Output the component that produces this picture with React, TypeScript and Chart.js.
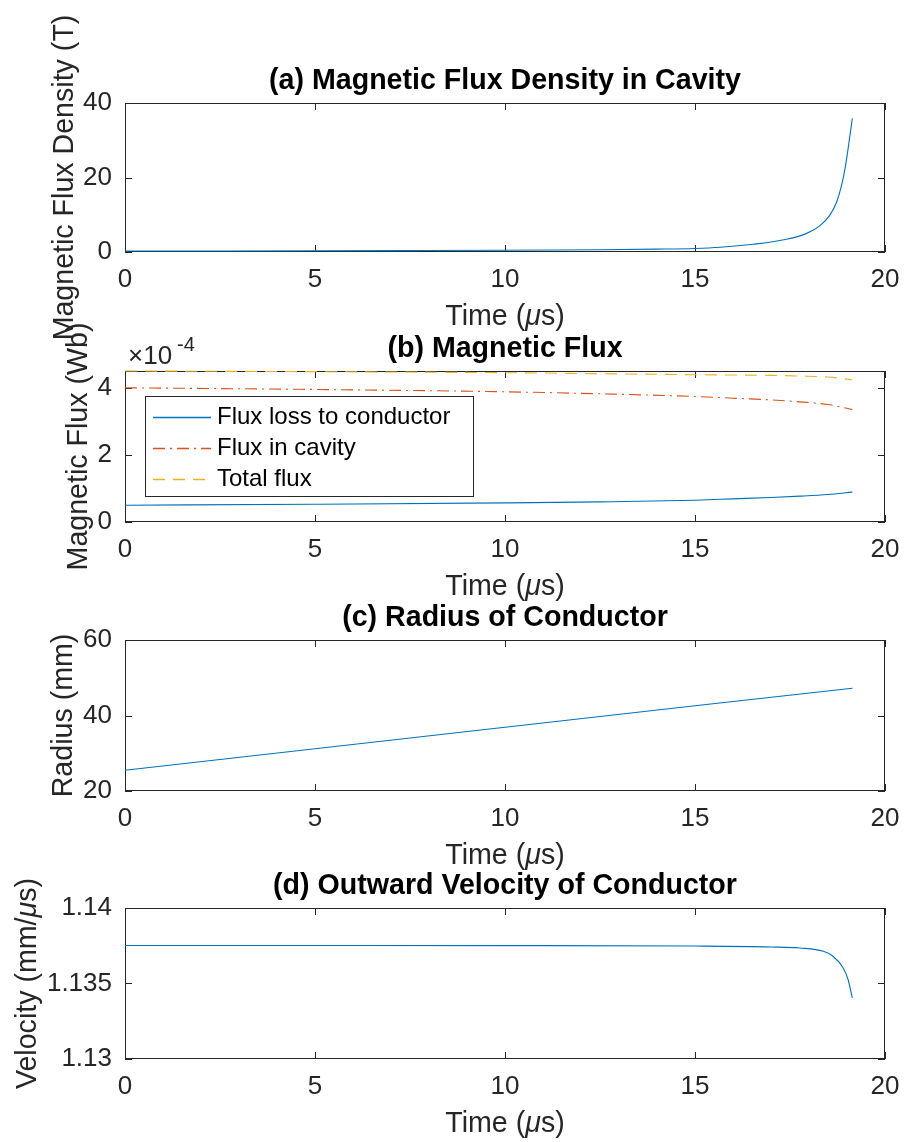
import React, { useEffect, useRef } from "react";
import { Chart, registerables } from "chart.js";

Chart.register(...registerables);

// ---------------- data ----------------
const timeTicks = [0, 5, 10, 15, 20];

// (a) magnetic flux density in cavity (T)
const timeA = [0, 2.5, 5, 7.5, 10, 12.5, 14, 15, 15.66, 16.53, 17.41, 17.94, 18.29, 18.55, 18.73, 18.86, 18.95, 19.03, 19.14];
const densityA = [0.25, 0.28, 0.32, 0.38, 0.46, 0.62, 0.78, 0.95, 1.26, 2.06, 3.4, 5.0, 7.1, 9.9, 13.5, 18.0, 22.5, 27.8, 35.9];
const densityTicks = [0, 20, 40];

// (b) magnetic flux (x 10^-4 Wb)
const timeB = [0, 5, 10, 12.5, 15, 16, 17, 17.76, 18.5, 19.14];
const fluxLoss = [0.5, 0.53, 0.57, 0.6, 0.65, 0.69, 0.73, 0.77, 0.82, 0.89];
const fluxCavity = [4.0, 3.95, 3.88, 3.82, 3.74, 3.69, 3.64, 3.58, 3.5, 3.35];
const fluxTotal = [4.5, 4.48, 4.45, 4.42, 4.39, 4.38, 4.37, 4.35, 4.32, 4.24];
const fluxTicks = [0, 2, 4];
const fluxLabels = ["Flux loss to conductor", "Flux in cavity", "Total flux"];

// (c) radius of conductor (mm)
const timeC = [0, 5, 10, 15, 19.14];
const radiusC = [25.5, 31.2, 36.9, 42.6, 47.2];
const radiusTicks = [20, 40, 60];

// (d) outward velocity (mm/us)
const timeD = [0, 5, 10, 15, 17, 17.76, 18.38, 18.64, 18.9, 19.03, 19.14];
const velocityD = [1.13752, 1.13752, 1.13751, 1.13748, 1.13742, 1.13735, 1.13713, 1.13679, 1.13603, 1.13525, 1.13404];
const velocityTicks = [1.13, 1.135, 1.14];

// ---------------- styling ----------------
const FONT = "'Liberation Sans', Arial, Helvetica, sans-serif";
const W = 904;
const H = 1142;
const PLOT_LEFT = 125;
const PLOT_RIGHT = 885;
const Y_AXIS_W = 100;
const X_AXIS_H = 50;
const TICK_PX = 26;
const LABEL_PX = 28.6;
const TITLE_PX = 28.6;
const LEGEND_PX = 24;
const AXIS_COLOR = "#262626";
const BLUE = "#0072BD";
const ORANGE = "#D95319";
const YELLOW = "#EDB120";

type Part = { text: string; italic?: boolean };

const pts = (xs: number[], ys: number[]) => xs.map((x, i) => ({ x, y: ys[i] }));

function drawRich(ctx: CanvasRenderingContext2D, parts: Part[], x: number, y: number, size: number, weight: string, color: string, align: "center" | "left" = "center") {
  const fontOf = (p: Part) => `${p.italic ? "italic " : ""}${weight} ${size}px ${FONT}`;
  let total = 0;
  const widths = parts.map((p) => {
    ctx.font = fontOf(p);
    const w = ctx.measureText(p.text).width;
    total += w;
    return w;
  });
  let cx = align === "center" ? x - total / 2 : x;
  ctx.textAlign = "left";
  ctx.textBaseline = "middle";
  ctx.fillStyle = color;
  parts.forEach((p, i) => {
    ctx.font = fontOf(p);
    ctx.fillText(p.text, cx, y);
    cx += widths[i];
  });
}

interface PanelSpec {
  id: string;
  top: number;
  bottom: number;
  title: string;
  yLabel: Part[];
  yLabelX: number;
  yMin: number;
  yMax: number;
  yTicks: number[];
  datasets: any[];
  legend?: boolean;
  exponent?: string;
}

function panelPlugin(spec: PanelSpec) {
  return {
    id: "panelDecor" + spec.id,
    beforeDatasetsDraw(chart: any) {
      const ctx: CanvasRenderingContext2D = chart.ctx;
      const a = chart.chartArea;
      const xs = chart.scales.x;
      const ys = chart.scales.y;
      ctx.save();
      const L = Math.round(a.left);
      const T = Math.round(a.top);
      const R = Math.round(a.right);
      const B = Math.round(a.bottom);
      ctx.strokeStyle = AXIS_COLOR;
      ctx.lineWidth = 1;
      ctx.setLineDash([]);
      ctx.strokeRect(L + 0.5, T + 0.5, R - L - 1, B - T - 1);
      const TL = 7;
      ctx.beginPath();
      xs.ticks.forEach((t: any) => {
        const px = Math.round(xs.getPixelForValue(t.value)) + 0.5;
        ctx.moveTo(px, B);
        ctx.lineTo(px, B - TL);
        ctx.moveTo(px, T);
        ctx.lineTo(px, T + TL);
      });
      ys.ticks.forEach((t: any) => {
        const py = Math.round(ys.getPixelForValue(t.value)) + 0.5;
        ctx.moveTo(L, py);
        ctx.lineTo(L + TL, py);
        ctx.moveTo(R, py);
        ctx.lineTo(R - TL, py);
      });
      ctx.stroke();
      ctx.restore();
    },
    afterDraw(chart: any) {
      const ctx: CanvasRenderingContext2D = chart.ctx;
      const a = chart.chartArea;
      ctx.save();
      // title
      drawRich(ctx, [{ text: spec.title }], (a.left + a.right) / 2, a.top - 22, TITLE_PX, "bold", "#000");
      // x label
      drawRich(ctx, [{ text: "Time (" }, { text: "\u03bc", italic: true }, { text: "s)" }], (a.left + a.right) / 2, a.bottom + 65, LABEL_PX, "normal", AXIS_COLOR);
      // y label
      ctx.save();
      ctx.translate(spec.yLabelX, (a.top + a.bottom) / 2);
      ctx.rotate(-Math.PI / 2);
      drawRich(ctx, spec.yLabel, 0, 0, LABEL_PX, "normal", AXIS_COLOR);
      ctx.restore();

      // exponent
      if (spec.exponent) {
        drawRich(ctx, [{ text: "\u00d710" }], a.left + 3, a.top - 14, TICK_PX, "normal", AXIS_COLOR, "left");
        drawRich(ctx, [{ text: spec.exponent }], a.left + 52, a.top - 26, 20, "normal", AXIS_COLOR, "left");
      }

      // legend
      if (spec.legend) {
        const lx = Math.round(a.left + 19.5);
        const ly = Math.round(a.top + 25);
        const lw = 328;
        const lh = 100;
        ctx.fillStyle = "#fff";
        ctx.fillRect(lx, ly, lw, lh);
        ctx.strokeStyle = AXIS_COLOR;
        ctx.lineWidth = 1;
        ctx.strokeRect(lx + 0.5, ly + 0.5, lw, lh);
        chart.data.datasets.forEach((ds: any, i: number) => {
          const cy = Math.round(ly + 21 + i * 31) + 0.5;
          ctx.strokeStyle = ds.borderColor;
          ctx.setLineDash(ds.borderDash || []);
          ctx.lineWidth = 1.4;
          ctx.beginPath();
          ctx.moveTo(lx + 8, cy);
          ctx.lineTo(lx + 66, cy);
          ctx.stroke();
          ctx.setLineDash([]);
          drawRich(ctx, [{ text: ds.label }], lx + 72, cy, LEGEND_PX, "normal", "#000", "left");
        });
      }
      ctx.restore();
    },
  };
}

function buildConfig(spec: PanelSpec): any {
  const tickFont = { family: FONT, size: TICK_PX };
  return {
    type: "line",
    data: { datasets: spec.datasets },
    options: {
      animation: false,
      responsive: false,
      maintainAspectRatio: false,
      events: [],
      layout: {
        autoPadding: false,
        padding: {
          left: PLOT_LEFT - Y_AXIS_W,
          right: W - PLOT_RIGHT,
          top: spec.top,
          bottom: H - spec.bottom - X_AXIS_H,
        },
      },
      plugins: {
        legend: { display: false },
        title: { display: false },
        tooltip: { enabled: false },
      },
      elements: { point: { radius: 0 } },
      scales: {
        x: {
          type: "linear",
          min: 0,
          max: 20,
          afterBuildTicks: (s: any) => {
            s.ticks = timeTicks.map((v) => ({ value: v }));
          },
          afterFit: (s: any) => {
            s.height = X_AXIS_H;
          },
          ticks: { autoSkip: false, maxRotation: 0, padding: 4, color: AXIS_COLOR, font: tickFont, callback: (v: any) => String(v) },
          grid: { display: false },
          border: { display: false },
        },
        y: {
          type: "linear",
          min: spec.yMin,
          max: spec.yMax,
          afterBuildTicks: (s: any) => {
            s.ticks = spec.yTicks.map((v) => ({ value: v }));
          },
          afterFit: (s: any) => {
            s.width = Y_AXIS_W;
          },
          ticks: { autoSkip: false, padding: 5, color: AXIS_COLOR, font: tickFont, callback: (v: any) => String(v) },
          grid: { display: false },
          border: { display: false },
        },
      },
    },
    plugins: [panelPlugin(spec)],
  };
}

const lineDs = (label: string, data: any[], color: string, dash: number[] = [], smooth = true) => ({
  label,
  data,
  borderColor: color,
  backgroundColor: color,
  borderWidth: 1.1,
  borderDash: dash,
  pointRadius: 0,
  fill: false,
  clip: 3,
  cubicInterpolationMode: smooth ? "monotone" : "default",
  tension: 0,
});

const panels: PanelSpec[] = [
  {
    id: "a",
    top: 103,
    bottom: 252,
    title: "(a) Magnetic Flux Density in Cavity",
    yLabel: [{ text: "Magnetic Flux Density (T)" }],
    yLabelX: 65,
    yMin: 0,
    yMax: 40,
    yTicks: densityTicks,
    datasets: [lineDs("Magnetic flux density", pts(timeA, densityA), BLUE)],
  },
  {
    id: "b",
    top: 371,
    bottom: 522,
    title: "(b) Magnetic Flux",
    yLabel: [{ text: "Magnetic Flux (Wb)" }],
    yLabelX: 79,
    yMin: 0,
    yMax: 4.5,
    yTicks: fluxTicks,
    legend: true,
    exponent: "-4",
    datasets: [
      lineDs(fluxLabels[0], pts(timeB, fluxLoss), BLUE),
      lineDs(fluxLabels[1], pts(timeB, fluxCavity), ORANGE, [12, 5, 2, 5]),
      lineDs(fluxLabels[2], pts(timeB, fluxTotal), YELLOW, [12, 8]),
    ],
  },
  {
    id: "c",
    top: 640,
    bottom: 791,
    title: "(c) Radius of Conductor",
    yLabel: [{ text: "Radius (mm)" }],
    yLabelX: 64,
    yMin: 20,
    yMax: 60,
    yTicks: radiusTicks,
    datasets: [lineDs("Radius", pts(timeC, radiusC), BLUE, [], false)],
  },
  {
    id: "d",
    top: 908,
    bottom: 1059,
    title: "(d) Outward Velocity of Conductor",
    yLabel: [{ text: "Velocity (mm/" }, { text: "\u03bc", italic: true }, { text: "s)" }],
    yLabelX: 28,
    yMin: 1.13,
    yMax: 1.14,
    yTicks: velocityTicks,
    datasets: [lineDs("Velocity", pts(timeD, velocityD), BLUE)],
  },
];

function Panel({ spec }: { spec: PanelSpec }) {
  const ref = useRef<HTMLCanvasElement | null>(null);
  useEffect(() => {
    if (!ref.current) return;
    const chart = new Chart(ref.current, buildConfig(spec));
    return () => chart.destroy();
  }, [spec]);
  return <canvas ref={ref} width={W} height={H} style={{ position: "absolute", left: 0, top: 0, width: W, height: H }} />;
}

export default function App() {
  return (
    <div style={{ position: "absolute", left: 0, top: 0, width: W, height: H, background: "#fff", overflow: "hidden" }}>
      {panels.map((p) => (
        <Panel key={p.id} spec={p} />
      ))}
    </div>
  );
}
